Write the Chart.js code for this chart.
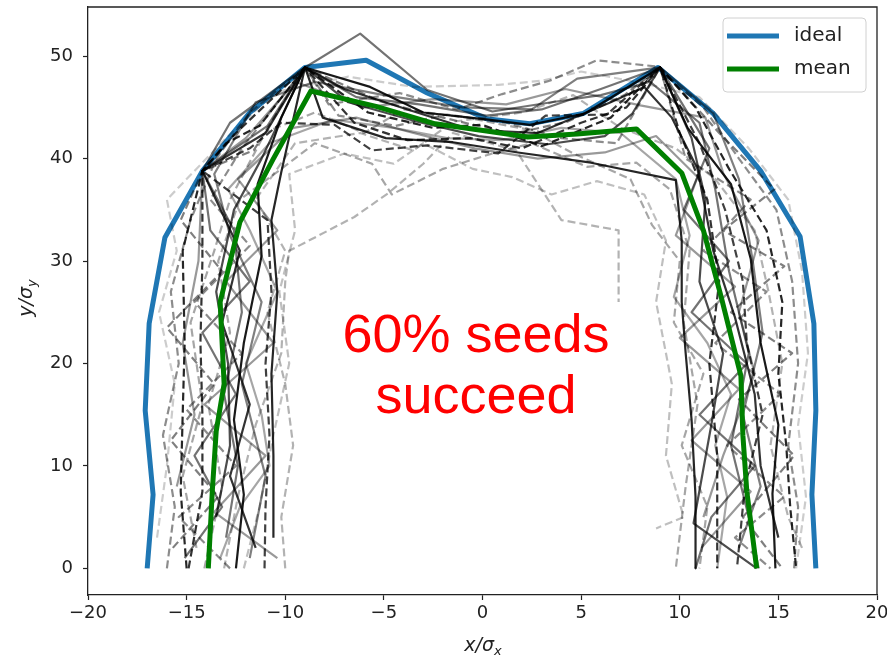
<!DOCTYPE html>
<html>
<head>
<meta charset="utf-8">
<script src="https://cdn.jsdelivr.net/npm/chart.js@4"></script>
<style>
  html, body { margin: 0; padding: 0; background: #ffffff; }
  canvas { display: block; }
</style>
</head>
<body>
<canvas id="chart" width="887" height="660"></canvas>
<script>
// Axis ticks
const xTicks = [-20, -15, -10, -5, 0, 5, 10, 15, 20];
const yTicks = [0, 10, 20, 30, 40, 50];

// Target outline and the mean over all seeds, as [x, y] nodes
const ideal = [[-17,0],[-16.7,7.2],[-17.1,15.4],[-16.9,23.9],[-16.1,32.3],[-14.2,38.8],[-11.8,44.5],[-9,48.9],[-5.9,49.6],[-2.8,46.4],[0.2,43.9],[2.4,43.4],[5.1,44.4],[8.9,48.9],[11.7,44.4],[14.1,38.8],[16.1,32.4],[16.8,23.9],[16.9,15.4],[16.7,7.2],[16.9,0]];
const mean = [[-13.9,0],[-13.7,7.5],[-13.5,13.4],[-13.1,18],[-13.3,26],[-12.3,33.8],[-10.6,40],[-8.7,46.6],[-5.4,45.1],[-2.4,43.4],[0.2,42.7],[2.3,42.1],[4.8,42.4],[7.8,42.9],[10.1,38.6],[11.2,33],[12.1,26.5],[13.1,18.8],[13.2,13],[13.4,7.5],[13.9,0]];

// Individual seed runs
const seed01 = [[-12.5,0],[-12.1,7.2],[-12.6,14.5],[-12.1,22],[-11.2,30.5],[-11.4,37.5],[-10.2,44],[-9,48.9],[-5.7,47],[-3,44.5],[0.3,43.8],[2.4,43.3],[5.2,44.4],[9,48.9],[10.4,43],[12.6,37.5],[13.6,30.2],[14.1,22],[15,14],[14.7,7.3],[14.85,0]];
const seed02 = [[-10.6,3],[-10.6,11],[-10.7,19],[-10.4,27],[-10.7,34],[-10.2,38.7],[-9,48.9],[-8.1,44],[-4.9,42],[-1.5,41.6],[1.8,40.6],[5.5,39.6],[9.8,37.9],[10.1,32],[10.1,26],[10.3,21],[10.6,14.5],[10.8,7],[10.8,0]];
const seed03 = [[-13,3],[-12.4,10],[-13.1,17],[-12.2,25],[-12.6,33],[-14.2,38.8],[-12.8,43.5],[-9,48.9],[-6.2,52.2],[-2.8,46.7],[0.5,44.6],[3.5,45.5],[6,46.2],[8.5,47.5],[11,43.5],[11.8,37],[12.5,29],[13.5,21],[12.6,12],[13.5,5],[14,0]];
const seed04 = [[-11.5,2],[-12.8,9],[-11.8,16],[-13.2,24],[-12.3,31],[-14.2,38.8],[-11,42.5],[-9,48.9],[-7,46.8],[-3.8,44.8],[-0.5,42.8],[2.8,42.5],[6.5,45.5],[8.2,47],[9.6,44],[10.9,39],[11.7,31],[12.8,24.5],[13.8,17],[14.1,10],[15,3]];
const seed05 = [[-13.5,5],[-12.8,12],[-12.9,20],[-13.5,27],[-12.6,35],[-11.2,40],[-9,48.9],[-6.8,45.5],[-3.3,43.6],[-0.2,42.2],[3.3,41.4],[6.2,42.2],[7.6,44.4],[9,48.9],[10.6,42],[11.3,36],[11,28],[12.2,21],[11.6,14],[10.7,4.4],[13.9,0]];
const seed06 = [[-11.8,1],[-11,9],[-12.2,18],[-11.2,26],[-12.8,32.5],[-13.6,38.5],[-11.5,45.5],[-8.5,47.5],[-5,46.2],[-1,45],[2.5,44.8],[4.8,47.8],[9,48.9],[11.7,44.4],[13,38],[13.7,30],[14.2,23],[13.2,15],[14.1,8],[13,2]];
const seed07 = [[-15.5,8],[-14.6,15],[-15.2,22],[-14.4,30],[-14.2,38.8],[-12,42],[-9.5,47.5],[-6,45],[-2.5,45.8],[1.2,45.3],[4.2,46.8],[8,45.2],[11.3,44],[12.2,38.6],[14,32],[13,25],[13.8,19],[12.2,11],[11.2,5]];
const seed08 = [[-13.3,1],[-12.3,6],[-10.8,10],[-11.2,15],[-12,20],[-10.4,27],[-11.8,33],[-12.9,37],[-10.8,41.5],[-7.6,43.8],[-4.5,43],[-1.8,42],[1,41.8],[4,43],[7,42.5],[9.8,38],[10.5,32.5],[9.7,26.5],[11.4,22],[12.6,17],[11.8,12],[12.4,7],[11.9,0]];
const seed09 = [[-15,0],[-15.3,7.5],[-15.2,15],[-15.1,22],[-15.2,31],[-14.2,38.8],[-13,41.5],[-11.3,43.2],[-9,48.9],[-5.8,44.5],[-2.5,43],[0,43.3],[3,41.2],[6.5,44],[9,48.9],[10.8,45],[12.5,39],[14.4,33],[15.2,26],[15,19],[15.4,12],[15.6,6],[15.9,0]];
const seed10 = [[-14.9,0],[-14.2,7.5],[-14.2,15],[-14.3,22],[-14.2,30],[-14.2,38.8],[-12.5,42.5],[-9,48.9],[-6.5,43.5],[-3.8,41.8],[-0.6,42],[2,41],[5,43.5],[7.3,45],[9,48.9],[10,42.5],[11.4,36],[12,28],[11.5,20],[11.9,11],[11.9,0]];
const seed11 = [[-11.05,0],[-11,6],[-10.8,13],[-11,20],[-10.7,27],[-10.9,34],[-14.2,38.8],[-11.8,41],[-10.2,43.5],[-7.5,43.3],[-5.6,40.8],[-2.8,41.3],[0.8,40.5],[3.2,44.2],[6.3,44.3],[9,48.9],[11,41.5],[12.3,35],[13.2,28],[13.4,22],[14.2,15],[13.3,8],[12.9,0]];
const seed12 = [[-16,0],[-15.6,6],[-16.2,13],[-15.4,20],[-15.8,27],[-14.8,34],[-13.5,40],[-11.8,44.5],[-9,48.9],[-7.8,45.3],[-4.2,46.4],[-1.3,44.8],[1,46.3],[3.4,47.6],[5.8,49.6],[8.8,49],[11.2,45],[13,40],[14.9,35],[15.7,28],[16,20],[15.5,12],[16,6],[15.8,0]];
const seed13 = [[-14.1,0],[-13.2,8],[-13.9,16],[-12.8,23],[-13.4,30],[-12.3,36],[-10.2,39],[-8.5,41.5],[-5.6,39.5],[-4.6,36.5],[-2,39],[0.5,40.5],[2.5,41.5],[5.3,39.2],[7.8,39.6],[9.5,37],[10.5,31],[10.2,24],[10.9,16],[10.3,8],[9.8,0]];
const seed14 = [[-13.1,0],[-12.4,7],[-11.5,14],[-10.2,21],[-10,28],[-9.8,31],[-6.5,34.3],[-4.8,36.6],[-3,39.5],[-1.5,42.5],[1.7,40.8],[4,34],[6.9,33],[6.9,26]];
const seed15 = [[-12.1,0],[-11.3,6],[-10.6,13],[-9.8,20],[-10.3,27],[-9.5,33],[-9.8,38.5],[-7,40.5],[-4.5,39.5],[-3,41.5],[-0.5,39],[1.5,38.2],[3.5,36.5],[5.8,37.8],[8.2,36.5],[9.3,32],[8.8,26],[9.6,18],[9.3,11],[10.2,5],[8.8,3.9]];
const seed16 = [[-10,0],[-10.2,5],[-9.6,12],[-10,18],[-10.9,25],[-10,31],[-11.5,36],[-9.5,41.5],[-6.2,42.5],[-3.5,40.8],[-1.5,43.6],[2,44.5],[4.6,46.2],[7,43],[9.8,41],[11.8,38],[13.8,33],[14.5,27],[15.2,20],[14.6,12],[15.5,5],[16.2,2]];
const seed17 = [[-16.5,3],[-16,10],[-15.6,18],[-16.4,25],[-15.5,31],[-16,36],[-13,42],[-10.5,46.5],[-6.8,48],[-3.5,47],[0.8,47.2],[3,47.6],[5,48.5],[8.3,47.3],[11,46],[13.5,41],[15.5,36],[16.2,29],[16.5,21],[16,14],[16.4,7],[15.9,0]];
const seed18 = [[-14.5,2],[-15.2,9],[-14.2,16],[-14.8,24],[-13.6,31],[-12.8,36],[-11,42.6],[-8.5,44.5],[-6,42.5],[-4,44.8],[-0.8,44],[2.4,42.8],[4.6,40.5],[7.5,38],[8.6,33.5],[10,30],[9.7,24],[11.2,19],[10.1,12],[11.4,6],[11,0]];
const seed19 = [[-15.1,1],[-13.2,6],[-14.6,11],[-12.5,17],[-14.2,23],[-11.8,28],[-13.8,33],[-14.2,38.8],[-10.9,43.2],[-9,48.9],[-6.4,46],[-3.2,45.3],[0.2,44.2],[3,44.8],[6,46.8],[9,48.9],[11.5,41],[10.2,35],[12.5,30],[10.6,25],[13.4,20],[11,15],[13.8,10],[11.6,5],[10.8,0]];
const seed20 = [[-12.8,0],[-15.4,5],[-12.5,10],[-15,15.5],[-12.2,21],[-14.6,26],[-11.8,31.5],[-13.8,36],[-12.2,41],[-9,48.9],[-7.3,44.2],[-4.4,43.2],[-1.8,44.3],[1.2,43.5],[4,42],[6.8,41.5],[9,48.9],[10.3,40],[13.6,36],[11.2,31],[14.4,27],[11.8,22],[15.1,17],[12.4,12],[15.3,7],[12.8,3],[14.6,0]];
const seed21 = [[-10.4,1],[-13.6,5.5],[-11,11],[-14.1,16],[-10.6,22],[-13,28],[-10.4,33],[-12.4,38],[-9.6,43],[-6.4,44],[-3.5,42.5],[-0.4,41],[2.8,40],[6.2,40.6],[8.8,42.2],[10.9,38.2],[9.8,32.5],[12.8,27.5],[10,22.5],[13,17.5],[10.6,12.5],[13.6,7.5],[11.1,2]];
const seed22 = [[-15.7,2],[-13.4,7],[-15.8,12.5],[-13.6,18],[-16,23.5],[-13.2,29],[-15.3,34],[-14.2,38.8],[-11.6,40.8],[-9,48.9],[-5.2,45.6],[-2,44],[1.5,42.4],[4.3,43.6],[7.2,46.2],[9,48.9],[12,42.5],[14.8,37],[12.2,33],[15.3,29.5],[12.6,25],[15.7,21],[13,16.5],[15.8,11],[13.2,5],[15.2,0]];

const seedRuns = [seed01, seed02, seed03, seed04, seed05, seed06, seed07, seed08, seed09, seed10, seed11,
                  seed12, seed13, seed14, seed15, seed16, seed17, seed18, seed19, seed20, seed21, seed22];

// Line look of each run: opacity and whether it is dashed
const seedAlpha  = [0.9, 0.85, 0.55, 0.8, 0.7, 0.5, 0.4, 0.35, 0.85, 0.8, 0.75, 0.45, 0.35, 0.3, 0.25, 0.3, 0.2, 0.35, 0.55, 0.45, 0.4, 0.5];
const seedDashed = [false, false, false, false, false, false, false, false, true, true, true, true, true, true, true, true, true, true, false, true, false, true];

const toPoints = pts => pts.map(([x, y]) => ({ x, y }));
const fmtTick = v => (v < 0 ? '\u2212' + Math.abs(v) : String(v));

const datasets = [
  { label: 'mean', data: toPoints(mean), borderColor: '#008000', borderWidth: 5, order: 0 },
  ...seedRuns.map((run, i) => ({
    label: 'seed ' + (i + 1),
    data: toPoints(run),
    borderColor: 'rgba(0,0,0,' + seedAlpha[i] + ')',
    borderWidth: 2.2,
    borderDash: seedDashed[i] ? [8, 4] : [],
    order: 1
  })),
  { label: 'ideal', data: toPoints(ideal), borderColor: '#1f77b4', borderWidth: 5, order: 2 }
];
datasets.forEach(d => {
  d.showLine = true;
  d.pointRadius = 0;
  d.pointHoverRadius = 0;
  d.fill = false;
  d.tension = 0;
  d.borderJoinStyle = 'round';
});

// Frame, legend, annotation and axis labels
const decorations = {
  id: 'decorations',
  afterDraw(chart) {
    const ctx = chart.ctx;
    const a = chart.chartArea;
    ctx.save();

    // top and right edges of the axes box
    ctx.strokeStyle = '#222';
    ctx.lineWidth = 1.3;
    ctx.beginPath();
    ctx.moveTo(a.left, a.top);
    ctx.lineTo(a.right, a.top);
    ctx.lineTo(a.right, a.bottom);
    ctx.stroke();

    // legend box
    const lx = 723, ly = 18, lw = 143, lh = 74, r = 4;
    ctx.beginPath();
    ctx.moveTo(lx + r, ly);
    ctx.arcTo(lx + lw, ly, lx + lw, ly + lh, r);
    ctx.arcTo(lx + lw, ly + lh, lx, ly + lh, r);
    ctx.arcTo(lx, ly + lh, lx, ly, r);
    ctx.arcTo(lx, ly, lx + lw, ly, r);
    ctx.closePath();
    ctx.fillStyle = 'rgba(255,255,255,0.8)';
    ctx.fill();
    ctx.strokeStyle = '#d0d0d0';
    ctx.lineWidth = 1;
    ctx.stroke();

    const entries = [
      chart.data.datasets.find(d => d.label === 'ideal'),
      chart.data.datasets.find(d => d.label === 'mean')
    ];
    ctx.font = '20px "DejaVu Sans"';
    ctx.textBaseline = 'middle';
    ctx.textAlign = 'left';
    entries.forEach((d, i) => {
      const y = 36 + i * 33;
      ctx.strokeStyle = d.borderColor;
      ctx.lineWidth = 5;
      ctx.setLineDash([]);
      ctx.beginPath();
      ctx.moveTo(727, y);
      ctx.lineTo(779, y);
      ctx.stroke();
      ctx.fillStyle = '#222';
      ctx.fillText(d.label, 794, y);
    });

    // annotation
    ctx.fillStyle = '#ff0000';
    ctx.font = '54px "Liberation Sans"';
    ctx.textAlign = 'center';
    ctx.textBaseline = 'alphabetic';
    ctx.fillText('60% seeds', 476, 352);
    ctx.fillText('succeed', 476, 413);

    // axis labels with subscripts
    const label = (base, sub, cx, cy, rotate) => {
      ctx.save();
      ctx.translate(cx, cy);
      if (rotate) ctx.rotate(-Math.PI / 2);
      const mainFont = 'italic 19px "DejaVu Sans"';
      const subFont = 'italic 13px "DejaVu Sans"';
      ctx.font = mainFont;
      const w1 = ctx.measureText(base).width;
      ctx.font = subFont;
      const w2 = ctx.measureText(sub).width;
      const x0 = -(w1 + w2) / 2;
      ctx.fillStyle = '#222';
      ctx.textAlign = 'left';
      ctx.textBaseline = 'alphabetic';
      ctx.font = mainFont;
      ctx.fillText(base, x0, 6);
      ctx.font = subFont;
      ctx.fillText(sub, x0 + w1, 10);
      ctx.restore();
    };
    label('x/\u03c3', 'x', 483, 645, false);
    label('y/\u03c3', 'y', 26, 298, true);

    ctx.restore();
  }
};

const tickFont = { family: 'DejaVu Sans', size: 18 };

new Chart(document.getElementById('chart'), {
  type: 'scatter',
  data: { datasets },
  options: {
    responsive: false,
    animation: false,
    devicePixelRatio: 1,
    layout: { padding: { top: 7, right: 10, left: 0, bottom: 0 } },
    plugins: {
      legend: { display: false },
      tooltip: { enabled: false }
    },
    scales: {
      x: {
        type: 'linear',
        min: -20,
        max: 20,
        afterBuildTicks: s => { s.ticks = xTicks.map(v => ({ value: v })); },
        afterFit: s => { s.height = 65; s.paddingLeft = 0; s.paddingRight = 0; },
        ticks: { font: tickFont, color: '#222', padding: 3, maxRotation: 0, autoSkip: false, callback: v => fmtTick(v) },
        grid: { drawOnChartArea: false, drawTicks: true, tickLength: 5, color: '#222', tickWidth: 1.2 },
        border: { display: true, color: '#222', width: 1.3 }
      },
      y: {
        type: 'linear',
        min: -2.6,
        max: 54.8,
        afterBuildTicks: s => { s.ticks = yTicks.map(v => ({ value: v })); },
        afterFit: s => { s.width = 88; s.paddingTop = 0; s.paddingBottom = 0; },
        ticks: { font: tickFont, color: '#222', padding: 10, autoSkip: false, callback: v => fmtTick(v) },
        grid: { drawOnChartArea: false, drawTicks: true, tickLength: 5, color: '#222', tickWidth: 1.2 },
        border: { display: true, color: '#222', width: 1.3 }
      }
    }
  },
  plugins: [decorations]
});
</script>
</body>
</html>
